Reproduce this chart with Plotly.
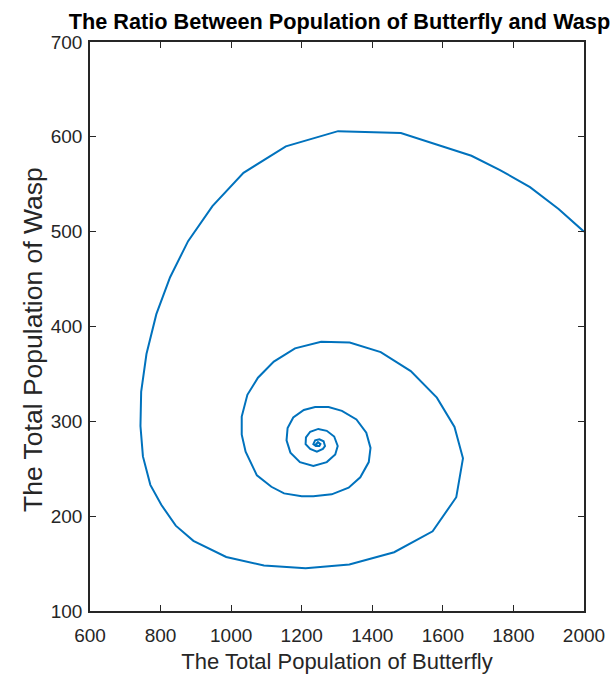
import plotly.graph_objects as go

butterfly = [2000, 1928, 1847, 1762, 1681, 1481, 1303, 1155, 1035, 947,
             878, 827, 788, 760, 745, 743, 750, 771, 802, 843,
             893, 986, 1093, 1211, 1335, 1462, 1571, 1638, 1657, 1633,
             1583, 1509, 1424, 1336, 1255, 1181, 1121, 1076, 1046, 1030,
             1030, 1041, 1073, 1114, 1150, 1200, 1233, 1285, 1333, 1366,
             1390, 1395, 1383, 1355, 1314, 1276, 1238, 1206, 1176, 1160,
             1157, 1168, 1195, 1233, 1271, 1295, 1302, 1292, 1271, 1247,
             1224, 1212, 1211, 1224, 1243, 1260, 1266, 1262, 1250, 1238,
             1233, 1240, 1250, 1253, 1246, 1241, 1245]
wasp = [500, 524, 547, 565, 580, 604, 606, 590, 562, 527,
        490, 452, 413, 371, 331, 295, 263, 233, 212, 190,
        174, 157, 148, 145, 149, 162, 184, 220, 261, 294,
        325, 353, 373, 383, 384, 377, 363, 346, 328, 305,
        286, 268, 243, 231, 224, 221, 221, 223, 230, 241,
        257, 272, 288, 302, 311, 315, 315, 312, 304, 293,
        280, 267, 257, 253, 257, 265, 274, 284, 290, 292,
        289, 283, 276, 271, 268, 271, 274, 279, 281, 280,
        276, 274, 274, 276, 278, 276, 275.5]

x_ticks = [600, 800, 1000, 1200, 1400, 1600, 1800, 2000]
y_ticks = [100, 200, 300, 400, 500, 600, 700]

FONT = "Liberation Sans, Arial, sans-serif"
AX = "#262626"

fig = go.Figure(go.Scatter(x=butterfly, y=wasp, mode="lines",
                           line=dict(color="#0072BD", width=2)))

axis_common = dict(showline=True, linecolor=AX, linewidth=1.5, mirror="ticks",
                   ticks="inside", ticklen=6, tickwidth=1.2, tickcolor=AX,
                   showgrid=False, zeroline=False, automargin=False,
                   tickfont=dict(family=FONT, size=19, color=AX))

fig.update_layout(
    width=615, height=678,
    margin=dict(l=90, r=31, t=42, b=67, autoexpand=False),
    paper_bgcolor="white", plot_bgcolor="white",
    showlegend=False,
    title=dict(text="<b>The Ratio Between Population of Butterfly and Wasp</b>",
               font=dict(family=FONT, size=21.7, color="black"),
               x=0.552, xanchor="center", xref="container",
               y=1 - 21.5 / 678, yanchor="middle", yref="container",
               automargin=False),
    xaxis=dict(range=[600, 2000], tickvals=x_ticks,
               ticktext=[str(v) for v in x_ticks],
               ticklabelstandoff=6,
               title=dict(text="The Total Population of Butterfly",
                          font=dict(family=FONT, size=22, color=AX), standoff=9),
               **axis_common),
    yaxis=dict(range=[100, 700], tickvals=y_ticks,
               ticktext=[str(v) for v in y_ticks],
               ticklabelstandoff=2,
               **axis_common),
    annotations=[dict(text="The Total Population of Wasp",
                      font=dict(family=FONT, size=26.5, color=AX),
                      textangle=-90, showarrow=False,
                      xref="paper", yref="paper",
                      x=(33 - 90) / 494, y=(611 - 340) / 569,
                      xanchor="center", yanchor="middle")],
)

fig.write_html("out.html", config={"displayModeBar": False},
               post_script="document.body.style.margin='0';document.body.style.padding='0';")
